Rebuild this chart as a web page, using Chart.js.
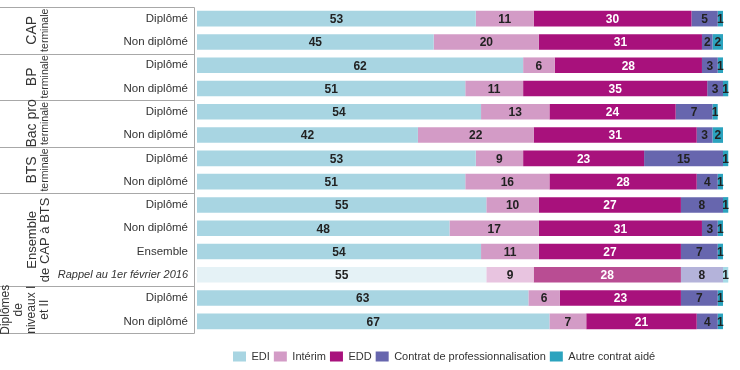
<!DOCTYPE html>
<html>
<head>
<meta charset="utf-8">
<script src="https://cdn.jsdelivr.net/npm/chart.js@4"></script>
<style>
  html, body { margin: 0; padding: 0; background: #fff; }
  #wrap { width: 740px; height: 370px; }
</style>
</head>
<body>
<div id="wrap"><canvas id="chart"></canvas></div>
<script>
// rows, top to bottom
const rowLabels = ["Diplômé", "Non diplômé", "Diplômé", "Non diplômé", "Diplômé", "Non diplômé",
  "Diplômé", "Non diplômé", "Diplômé", "Non diplômé", "Ensemble", "Rappel au 1er février 2016",
  "Diplômé", "Non diplômé"];

// groups of rows (left side labels)
const groupNames = [["CAP", "terminale"], ["BP", "terminale"], ["Bac pro", "terminale"],
  ["BTS", "terminale"], ["Ensemble", "de CAP à BTS"], ["Diplômes", "de", "niveaux I", "et II"]];
const groupSizes = [2, 2, 2, 2, 4, 2];

// values in %
const edi = [53, 45, 62, 51, 54, 42, 53, 51, 55, 48, 54, 55, 63, 67];
const interim = [11, 20, 6, 11, 13, 22, 9, 16, 10, 17, 11, 9, 6, 7];
const edd = [30, 31, 28, 35, 24, 31, 23, 28, 27, 31, 27, 28, 23, 21];
const contratPro = [5, 2, 3, 3, 7, 3, 15, 4, 8, 3, 7, 8, 7, 4];
const autreContrat = [1, 2, 1, 1, 1, 2, 1, 1, 1, 1, 1, 1, 1, 1];

const rappelRow = 11;
const FONT = "'Liberation Sans', Arial, sans-serif";

// colour + faded colour for the "Rappel" row
function makeSet(label, data, color, faded, textColor) {
  return {
    label: label,
    data: data,
    backgroundColor: ctx => ctx.dataIndex === rappelRow ? faded : color,
    textColor: textColor,
    barPercentage: 0.67,
    categoryPercentage: 1,
    clip: false
  };
}

// value labels in the middle of each segment
const valueLabels = {
  id: "valueLabels",
  afterDatasetsDraw(chart) {
    const ctx = chart.ctx;
    ctx.save();
    ctx.font = "bold 12px " + FONT;
    ctx.textAlign = "center";
    ctx.textBaseline = "middle";
    chart.data.datasets.forEach((ds, i) => {
      chart.getDatasetMeta(i).data.forEach((bar, j) => {
        ctx.fillStyle = ds.textColor;
        ctx.fillText(ds.data[j], (bar.x + bar.base) / 2, bar.y + 1);
      });
    });
    ctx.restore();
  }
};

// left box: group separators and rotated group names
const groupBox = {
  id: "groupBox",
  afterDraw(chart) {
    const ctx = chart.ctx;
    const y = chart.scales.y;
    const area = chart.chartArea;
    const right = area.left - 3;
    ctx.save();
    ctx.strokeStyle = "#a8a8a8";
    ctx.lineWidth = 1;
    ctx.beginPath();
    ctx.moveTo(0, area.top + 0.5); ctx.lineTo(right + 0.5, area.top + 0.5);
    ctx.lineTo(right + 0.5, area.bottom + 0.5); ctx.lineTo(0, area.bottom + 0.5);
    ctx.stroke();

    let start = 0;
    groupSizes.forEach((n, g) => {
      const end = start + n - 1;
      const top = start === 0 ? area.top : (y.getPixelForValue(start - 1) + y.getPixelForValue(start)) / 2;
      const bottom = end === rowLabels.length - 1 ? area.bottom : (y.getPixelForValue(end) + y.getPixelForValue(end + 1)) / 2;
      if (start > 0) {
        ctx.beginPath();
        ctx.moveTo(0, Math.round(top) + 0.5);
        ctx.lineTo(right, Math.round(top) + 0.5);
        ctx.stroke();
      }
      const lines = groupNames[g];
      const cy = (top + bottom) / 2;
      const small = lines[1] === "terminale";
      ctx.fillStyle = "#333";
      ctx.textAlign = "center";
      ctx.textBaseline = "middle";
      lines.forEach((txt, k) => {
        const cx = 45 - (lines.length - 1 - k) * 13;
        ctx.save();
        ctx.translate(cx, cy);
        ctx.rotate(-Math.PI / 2);
        if (small) ctx.font = (k === 0 ? "14px " : "10.5px ") + FONT;
        else ctx.font = (lines.length > 2 ? "12px " : "13px ") + FONT;
        ctx.fillText(txt, 0, 0);
        ctx.restore();
      });
      start += n;
    });
    ctx.restore();
  }
};

// move the legend under the bars
const legendShift = {
  id: "legendShift",
  afterLayout(chart) {
    const lg = chart.legend;
    if (!lg || !lg.lineWidths) return;
    const pad = lg.options.labels.padding;
    const startX = (lg.left + pad + lg.right - lg.lineWidths[0]) / 2;
    const dx = 233 - startX;
    lg.left += dx; lg.right += dx;
    lg.top += 14; lg.bottom += 14;
  }
};

new Chart(document.getElementById("chart"), {
  type: "bar",
  data: {
    labels: rowLabels,
    datasets: [
      makeSet("EDI", edi, "#a8d5e2", "#e5f2f6", "#222"),
      makeSet("Intérim", interim, "#d39bc6", "#e8c4e0", "#222"),
      makeSet("EDD", edd, "#a8117c", "#b94d93", "#fff"),
      makeSet("Contrat de professionnalisation", contratPro, "#6766ae", "#b4b3da", "#222"),
      makeSet("Autre contrat aidé", autreContrat, "#2ba3be", "#a6dbe7", "#222")
    ]
  },
  options: {
    indexAxis: "y",
    responsive: true,
    maintainAspectRatio: false,
    animation: false,
    layout: { padding: { top: 7, right: 17, left: 0, bottom: 12 } },
    scales: {
      x: {
        stacked: true, min: 0, max: 100, display: false
      },
      y: {
        stacked: true,
        grid: { display: false, drawTicks: false },
        border: { display: false },
        afterFit: scale => {
          scale.width = 197;
          scale.paddingTop = 0;
          scale.paddingBottom = 0;
        },
        ticks: {
          padding: 9,
          color: "#333",
          font: ctx => ({
            family: FONT,
            size: ctx.index === rappelRow ? 11 : 11.5,
            style: ctx.index === rappelRow ? "italic" : "normal"
          })
        }
      }
    },
    plugins: {
      legend: {
        position: "bottom",
        labels: {
          boxWidth: 13, boxHeight: 10, padding: 4,
          color: "#333",
          font: { family: FONT, size: 11 }
        }
      },
      tooltip: { enabled: false }
    }
  },
  plugins: [valueLabels, groupBox, legendShift]
});
</script>
</body>
</html>
